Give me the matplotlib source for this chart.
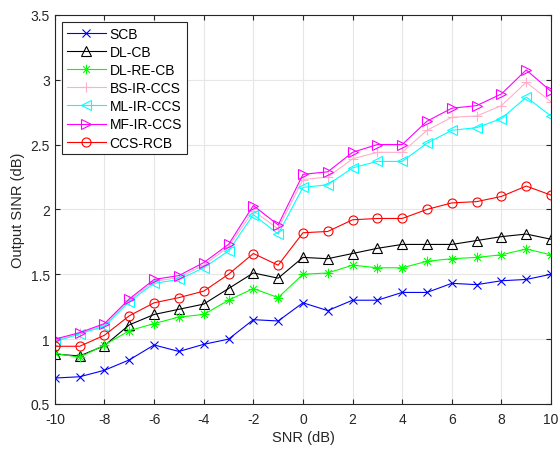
import matplotlib
matplotlib.use("Agg")
import matplotlib.pyplot as plt
from matplotlib.ticker import FuncFormatter
from matplotlib.path import Path

plt.rcParams["font.family"] = ["Liberation Sans", "DejaVu Sans"]
plt.rcParams["axes.unicode_minus"] = False

# ── data
snr = list(range(-10, 11))

scb = [0.70, 0.71, 0.76, 0.84, 0.955, 0.905, 0.96, 1.00, 1.15, 1.14, 1.28,
       1.22, 1.30, 1.30, 1.36, 1.36, 1.43, 1.42, 1.45, 1.46, 1.50]
dl_cb = [0.885, 0.87, 0.95, 1.11, 1.19, 1.23, 1.27, 1.39, 1.51, 1.47, 1.63,
         1.62, 1.66, 1.70, 1.73, 1.73, 1.73, 1.76, 1.79, 1.81, 1.77]
dl_re_cb = [0.89, 0.86, 0.955, 1.065, 1.12, 1.17, 1.19, 1.30, 1.39, 1.32, 1.50,
            1.51, 1.57, 1.55, 1.55, 1.60, 1.62, 1.63, 1.65, 1.695, 1.65]
bs_ir_ccs = [0.99, 1.045, 1.11, 1.30, 1.445, 1.475, 1.57, 1.71, 1.99, 1.85, 2.23,
             2.25, 2.39, 2.44, 2.44, 2.61, 2.71, 2.72, 2.80, 2.98, 2.83]
ml_ir_ccs = [0.98, 1.04, 1.10, 1.29, 1.43, 1.46, 1.55, 1.68, 1.96, 1.81, 2.17,
             2.19, 2.32, 2.37, 2.37, 2.51, 2.61, 2.63, 2.70, 2.865, 2.72]
mf_ir_ccs = [1.00, 1.05, 1.12, 1.31, 1.46, 1.49, 1.59, 1.73, 2.03, 1.88, 2.27,
             2.29, 2.44, 2.50, 2.50, 2.68, 2.78, 2.80, 2.89, 3.075, 2.91]
ccs_rcb = [0.945, 0.945, 1.03, 1.18, 1.28, 1.32, 1.37, 1.50, 1.66, 1.57, 1.82,
           1.83, 1.92, 1.93, 1.93, 2.00, 2.05, 2.06, 2.10, 2.18, 2.11]

# MATLAB-style asterisk: plus and cross overlaid
d = 0.7071
asterisk = Path([(0, -1), (0, 1), (-1, 0), (1, 0),
                 (-d, -d), (d, d), (-d, d), (d, -d)],
                [Path.MOVETO, Path.LINETO] * 4)

series = [
    ("SCB",       scb,       "#0000FF", "x",      6),
    ("DL-CB",     dl_cb,     "#000000", "^",      6.5),
    ("DL-RE-CB",  dl_re_cb,  "#00FF00", asterisk, 7),
    ("BS-IR-CCS", bs_ir_ccs, "#FFB0C8", "+",      7),
    ("ML-IR-CCS", ml_ir_ccs, "#00FFFF", "<",      6.5),
    ("MF-IR-CCS", mf_ir_ccs, "#FF00FF", ">",      6.5),
    ("CCS-RCB",   ccs_rcb,   "#FF0000", "o",      6.5),
]

fig = plt.figure(figsize=(5.6, 4.52), dpi=100)
ax = fig.add_axes([0.098, 0.104, 0.886, 0.861])

for name, vals, col, mk, ms in series:
    ax.plot(snr, vals, color=col, marker=mk, markersize=ms,
            markerfacecolor="none", markeredgecolor=col,
            markeredgewidth=0.8, linewidth=0.8, label=name)

ax.set_xlim(-10, 10)
ax.set_ylim(0.5, 3.5)
ax.set_xticks(range(-10, 11, 2))
ax.set_yticks([0.5, 1, 1.5, 2, 2.5, 3, 3.5])
ax.yaxis.set_major_formatter(FuncFormatter(lambda v, p: f"{v:g}"))

ax.grid(True, color="#E6E6E6", linewidth=0.8)
ax.set_axisbelow(True)
ax.tick_params(direction="in", length=3.5, labelsize=10, colors="#262626",
               top=True, right=True)
ax.tick_params(axis="x", pad=6)
for sp in ax.spines.values():
    sp.set_color("#262626")
    sp.set_linewidth(0.8)

ax.set_xlabel("SNR (dB)", fontsize=10.5, color="#262626", labelpad=3)
ax.set_ylabel("Output SINR (dB)", fontsize=10.5, color="#262626")

leg = ax.legend(loc="upper left", fontsize=10, fancybox=False,
                framealpha=1, edgecolor="#262626", handlelength=2.8,
                borderaxespad=0.5, labelspacing=0.3, borderpad=0.35,
                handletextpad=0.3)
leg.get_frame().set_linewidth(0.8)

fig.savefig("out.png", dpi=100)
